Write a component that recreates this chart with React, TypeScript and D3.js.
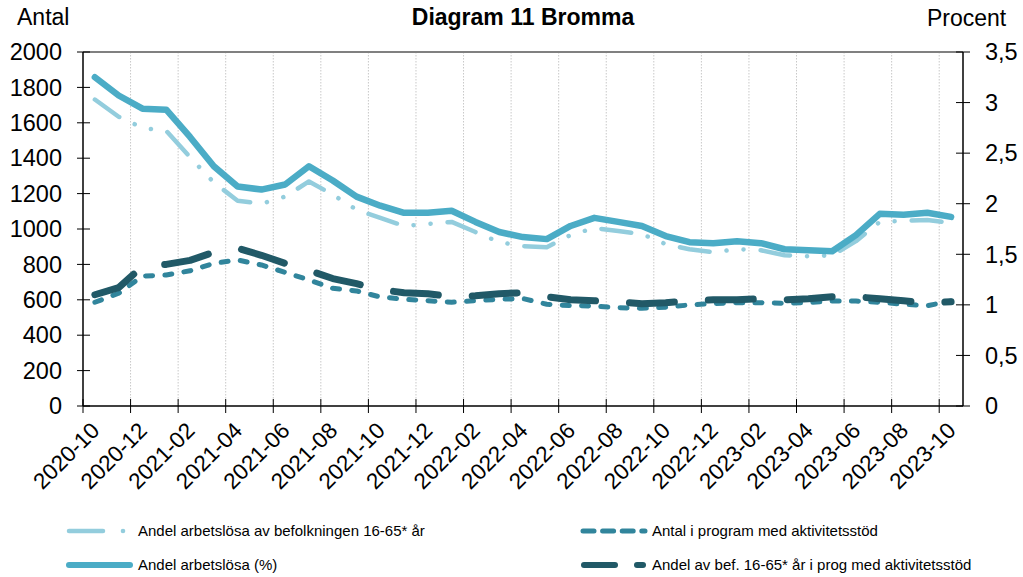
import React from 'react';
import * as d3 from 'd3';

// månader (x-axeln)
const months = [
  '2020-10', '2020-11', '2020-12',
  '2021-01', '2021-02', '2021-03', '2021-04', '2021-05', '2021-06',
  '2021-07', '2021-08', '2021-09', '2021-10', '2021-11', '2021-12',
  '2022-01', '2022-02', '2022-03', '2022-04', '2022-05', '2022-06',
  '2022-07', '2022-08', '2022-09', '2022-10', '2022-11', '2022-12',
  '2023-01', '2023-02', '2023-03', '2023-04', '2023-05', '2023-06',
  '2023-07', '2023-08', '2023-09', '2023-10',
];

// Andel arbetslösa av befolkningen 16-65* år (procent, höger axel)
const andelBef = [
  3.03, 2.86, 2.75, 2.72, 2.46, 2.21, 2.03, 2.0, 2.07, 2.22, 2.09, 1.94, 1.86,
  1.78, 1.8, 1.82, 1.72, 1.62, 1.58, 1.57, 1.69, 1.76, 1.73, 1.7, 1.6, 1.55,
  1.52, 1.55, 1.54, 1.49, 1.48, 1.49, 1.63, 1.82, 1.83, 1.84, 1.81,
];

// Andel arbetslösa (%) (höger axel)
const andelArb = [
  3.25, 3.07, 2.94, 2.93, 2.66, 2.37, 2.17, 2.14, 2.19, 2.37, 2.23, 2.07, 1.98,
  1.91, 1.91, 1.93, 1.82, 1.72, 1.67, 1.65, 1.78, 1.86, 1.82, 1.78, 1.68, 1.62,
  1.61, 1.63, 1.61, 1.55, 1.54, 1.53, 1.69, 1.9, 1.89, 1.91, 1.87,
];

// Antal i program med aktivitetsstöd (vänster axel)
const antalProg = [
  586, 637, 734, 740, 764, 806, 825, 797, 755, 712, 665, 650, 616,
  603, 595, 586, 595, 603, 607, 575, 567, 565, 555, 552, 558, 571,
  579, 584, 584, 580, 584, 593, 593, 586, 575, 567, 593,
];

// Andel av bef. 16-65* år i prog med aktivitetsstöd (procent, höger axel)
const andelProg = [
  1.1, 1.17, 1.38, 1.4, 1.44, 1.52, 1.56, 1.49, 1.41, 1.34, 1.26, 1.21, 1.15,
  1.12, 1.11, 1.08, 1.09, 1.11, 1.12, 1.08, 1.05, 1.04, 1.03, 1.01, 1.02, 1.04,
  1.05, 1.05, 1.06, 1.05, 1.06, 1.08, 1.08, 1.06, 1.04, 1.02, 1.03,
];

const leftTicks = [0, 200, 400, 600, 800, 1000, 1200, 1400, 1600, 1800, 2000];
const rightTicks = [0, 0.5, 1, 1.5, 2, 2.5, 3, 3.5];

const FONT = '"Liberation Sans", Arial, sans-serif';

const C_LIGHT = '#93cddd';
const C_MID = '#4bacc6';
const C_TEAL = '#31859c';
const C_DARK = '#215967';

export default function App() {
  const W = 1023;
  const H = 577;
  const left = 83;
  const right = 963;
  const top = 52;
  const bottom = 406;

  const x = d3.scaleBand<string>().domain(months).range([left, right]);
  const xc = (m: string) => (x(m) as number) + x.bandwidth() / 2;
  const yL = d3.scaleLinear().domain([0, 2000]).range([bottom, top]);
  const yR = d3.scaleLinear().domain([0, 3.5]).range([bottom, top]);

  const lineR = d3
    .line<number>()
    .x((_, i) => xc(months[i]))
    .y((d) => yR(d));
  const lineL = d3
    .line<number>()
    .x((_, i) => xc(months[i]))
    .y((d) => yL(d));

  // var annan månad får etikett + tick
  const tickIdx = months.map((_, i) => i).filter((i) => i % 2 === 0);

  const fmt = (v: number) => String(v).replace('.', ',');

  return (
    <svg
      width={W}
      height={H}
      style={{ position: 'absolute', left: 0, top: 0, background: '#fff' }}
      fontFamily={FONT}
    >
      <rect width={W} height={H} fill="#fff" />

      {/* titel och axeltitlar */}
      <text x={523} y={25} textAnchor="middle" fontSize={23} fontWeight="bold">
        Diagram 11 Bromma
      </text>
      <text x={17} y={25} fontSize={23}>Antal</text>
      <text x={927} y={26} fontSize={23}>Procent</text>

      {/* stödlinjer */}
      {tickIdx.slice(1).map((i) => (
        <line
          key={'g' + i}
          x1={x(months[i])}
          x2={x(months[i])}
          y1={top}
          y2={bottom}
          stroke="#c8c8c8"
          strokeWidth={1}
          strokeDasharray="1.5 1.5"
        />
      ))}
      <line x1={left} x2={right} y1={top} y2={top} stroke="#808080" strokeWidth={2} />

      {/* vänster axel */}
      <line x1={left} x2={left} y1={top} y2={bottom} stroke="#000" strokeWidth={1.5} />
      {leftTicks.map((t) => (
        <g key={'l' + t}>
          <line x1={left - 6} x2={left + 7} y1={yL(t)} y2={yL(t)} stroke="#000" strokeWidth={1} />
          <text x={62} y={yL(t)} dy="0.35em" textAnchor="end" fontSize={23.5}>
            {t}
          </text>
        </g>
      ))}

      {/* höger axel */}
      <line x1={right} x2={right} y1={top} y2={bottom} stroke="#000" strokeWidth={1.5} />
      {rightTicks.map((t) => (
        <g key={'r' + t}>
          <line x1={right - 7} x2={right + 7} y1={yR(t)} y2={yR(t)} stroke="#000" strokeWidth={1} />
          <text x={985} y={yR(t)} dy="0.35em" fontSize={23.5}>
            {fmt(t)}
          </text>
        </g>
      ))}

      {/* x-axel */}
      <line x1={left} x2={right} y1={bottom} y2={bottom} stroke="#000" strokeWidth={1.5} />
      {tickIdx.map((i) => (
        <g key={'x' + i}>
          <line
            x1={x(months[i])}
            x2={x(months[i])}
            y1={bottom - 7}
            y2={bottom + 7}
            stroke="#000"
            strokeWidth={1}
          />
          <text
            transform={`translate(${xc(months[i]) + 6},${432}) rotate(-45)`}
            textAnchor="end"
            fontSize={22.5}
          >
            {months[i]}
          </text>
        </g>
      ))}

      {/* serier */}
      <path
        d={lineR(andelBef) ?? ''}
        fill="none"
        stroke={C_LIGHT}
        strokeWidth={4.5}
        strokeLinecap="round"
        strokeLinejoin="round"
        strokeDasharray="30 17 0.1 17 0.1 17"
      />
      <path
        d={lineR(andelArb) ?? ''}
        fill="none"
        stroke={C_MID}
        strokeWidth={6.5}
        strokeLinecap="round"
        strokeLinejoin="round"
      />
      <path
        d={lineL(antalProg) ?? ''}
        fill="none"
        stroke={C_TEAL}
        strokeWidth={5}
        strokeLinecap="round"
        strokeLinejoin="round"
        strokeDasharray="7 12.3"
      />
      <path
        d={lineR(andelProg) ?? ''}
        fill="none"
        stroke={C_DARK}
        strokeWidth={7}
        strokeLinecap="round"
        strokeLinejoin="round"
        strokeDasharray="45 34"
      />

      {/* legend */}
      <g fontSize={15}>
        <line x1={69} x2={103} y1={531} y2={531} stroke={C_LIGHT} strokeWidth={4.5} strokeLinecap="round" />
        <circle cx={123} cy={531} r={2.3} fill={C_LIGHT} />
        <text x={138} y={531} dy="0.35em">Andel arbetslösa av befolkningen 16-65* år</text>

        <line x1={69} x2={130} y1={565} y2={565} stroke={C_MID} strokeWidth={6} strokeLinecap="round" />
        <text x={138} y={565} dy="0.35em">Andel arbetslösa (%)</text>

        <line
          x1={583}
          x2={645}
          y1={531}
          y2={531}
          stroke={C_TEAL}
          strokeWidth={5}
          strokeLinecap="round"
          strokeDasharray="11 8.6"
        />
        <text x={652} y={531} dy="0.35em">Antal i program med aktivitetsstöd</text>

        <line x1={584} x2={615} y1={565} y2={565} stroke={C_DARK} strokeWidth={6} strokeLinecap="round" />
        <line x1={637} x2={643} y1={565} y2={565} stroke={C_DARK} strokeWidth={6} strokeLinecap="round" />
        <text x={652} y={565} dy="0.35em">Andel av bef. 16-65* år i prog med aktivitetsstöd</text>
      </g>
    </svg>
  );
}
